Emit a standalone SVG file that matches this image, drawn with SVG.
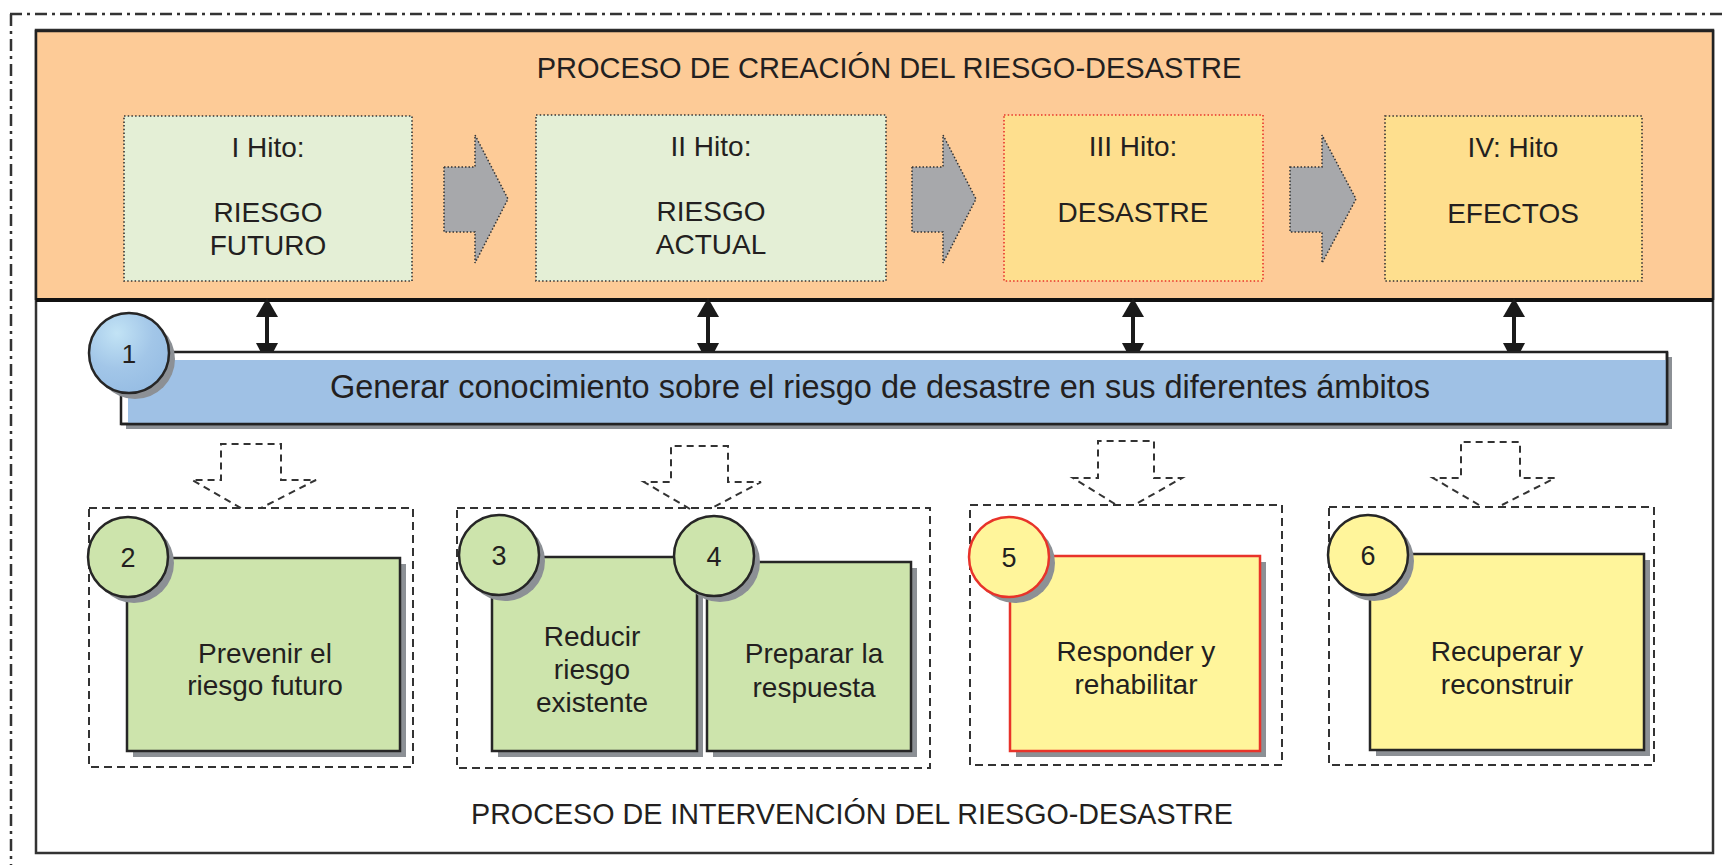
<svg xmlns="http://www.w3.org/2000/svg" width="1725" height="865" viewBox="0 0 1725 865">
<style>
  .t { font-family: "Liberation Sans", Arial, sans-serif; fill: #231F20; text-anchor: middle; }
  .hito { fill: #E4EFD6; stroke: #333; stroke-width: 1.6; stroke-dasharray: 1.5 2.2; }
  .hitoY { fill: #FEDF8E; stroke: #333; stroke-width: 1.6; stroke-dasharray: 1.5 2.2; }
  .hitoR { fill: #FEDF8E; stroke: #E8332A; stroke-width: 1.6; stroke-dasharray: 1.5 2.2; }
  .garrow { fill: #A7A8AB; stroke: #333; stroke-width: 1.5; stroke-dasharray: 1.5 2; }
  .dbl { stroke: #1A1A1A; stroke-width: 4; fill: none; }
  .head { fill: #1A1A1A; }
  .darrow { fill: none; stroke: #333; stroke-width: 2; stroke-dasharray: 7 5; }
  .group { fill: none; stroke: #333; stroke-width: 2; stroke-dasharray: 8 5; }
  .shadow { fill: #8C9095; }
  .green { fill: #CDE4AC; stroke: #262626; stroke-width: 2.5; }
  .yellow { fill: #FFF59B; stroke: #262626; stroke-width: 2.5; }
  .yellowR { fill: #FFF59B; stroke: #E8332A; stroke-width: 2.5; }
</style>
<defs>
  <radialGradient id="blueBall" cx="35%" cy="25%" r="75%">
    <stop offset="0" stop-color="#C2E3F5"/>
    <stop offset="0.6" stop-color="#A2C6E8"/>
    <stop offset="1" stop-color="#98BEE4"/>
  </radialGradient>
</defs>
<rect width="1725" height="865" fill="#FFFFFF"/>

<!-- outer dash-dot frame -->
<g id="frame">
  <path d="M10,14 H1725 M11,14 V865" fill="none" stroke="#333" stroke-width="2.5" stroke-dasharray="12 5 3 5"/>
</g>

<!-- main container -->
<g id="main">
  <rect x="36" y="30" width="1677" height="823" fill="#FFFFFF" stroke="#333" stroke-width="2.5"/>
  <rect x="37" y="31" width="1675" height="269" fill="#FDCB97"/>
  <path d="M36,31 H1713 M36,30 V300 M1713,30 V300" stroke="#222" stroke-width="2.5" fill="none"/>
  <line x1="36" y1="300" x2="1713" y2="300" stroke="#111" stroke-width="4"/>
  <text class="t" x="889" y="78" font-size="29">PROCESO DE CREACIÓN DEL RIESGO-DESASTRE</text>
  <text class="t" x="852" y="824" font-size="28.7">PROCESO DE INTERVENCIÓN DEL RIESGO-DESASTRE</text>
</g>

<g id="hito1">
  <rect class="hito" x="124" y="116" width="288" height="165"/>
  <text class="t" x="268" y="157" font-size="28">I Hito:</text>
  <text class="t" x="268" y="222" font-size="28">RIESGO</text>
  <text class="t" x="268" y="255" font-size="28">FUTURO</text>
</g>
<g id="hito2">
  <rect class="hito" x="536" y="115" width="350" height="166"/>
  <text class="t" x="711" y="156" font-size="28">II Hito:</text>
  <text class="t" x="711" y="221" font-size="28">RIESGO</text>
  <text class="t" x="711" y="254" font-size="28">ACTUAL</text>
</g>
<g id="hito3">
  <rect class="hitoR" x="1004" y="115" width="259" height="166"/>
  <text class="t" x="1133" y="156" font-size="28">III Hito:</text>
  <text class="t" x="1133" y="222" font-size="28">DESASTRE</text>
</g>
<g id="hito4">
  <rect class="hitoY" x="1385" y="116" width="257" height="165"/>
  <text class="t" x="1513" y="157" font-size="28">IV: Hito</text>
  <text class="t" x="1513" y="223" font-size="28">EFECTOS</text>
</g>

<g id="connectors">
  <!-- gray process arrows -->
  <polygon class="garrow" points="444,167 475,167 475,135 508,199 475,263 475,232 444,232"/>
  <polygon class="garrow" points="912,167 943,167 943,135 976,199 943,263 943,232 912,232"/>
  <polygon class="garrow" points="1290,167 1322,167 1322,135 1356,199 1322,263 1322,232 1290,232"/>
  <!-- double-headed arrows -->
  <g>
    <line class="dbl" x1="267" y1="312" x2="267" y2="348"/>
    <polygon class="head" points="267,298 278,317 256,317"/>
    <polygon class="head" points="267,364 278,343 256,343"/>
    <line class="dbl" x1="708" y1="312" x2="708" y2="348"/>
    <polygon class="head" points="708,298 719,317 697,317"/>
    <polygon class="head" points="708,364 719,343 697,343"/>
    <line class="dbl" x1="1133" y1="312" x2="1133" y2="348"/>
    <polygon class="head" points="1133,298 1144,317 1122,317"/>
    <polygon class="head" points="1133,364 1144,343 1122,343"/>
    <line class="dbl" x1="1514" y1="312" x2="1514" y2="348"/>
    <polygon class="head" points="1514,298 1525,317 1503,317"/>
    <polygon class="head" points="1514,364 1525,343 1503,343"/>
  </g>
  <!-- dashed hollow down arrows (tips open) -->
  <path class="darrow" d="M241,508 L192,480 H221 V444 H281 V480 H316 L261,508"/>
  <path class="darrow" d="M690,509 L644,482 H671 V446 H728 V482 H761 L710,509"/>
  <path class="darrow" d="M1115,504 L1073,478 H1098 V441 H1154 V478 H1182 L1136,504"/>
  <path class="darrow" d="M1479,505 L1433,478 H1461 V442 H1520 V478 H1555 L1502,505"/>
</g>

<g id="node1">
  <rect class="shadow" x="126" y="357" width="1546" height="72"/>
  <rect x="121" y="352" width="1546" height="72" fill="#FFFFFF" stroke="#222" stroke-width="2.5"/>
  <rect x="128" y="360" width="1538" height="63" fill="#9FC1E5"/>
  <line x1="121" y1="424" x2="1667" y2="424" stroke="#222" stroke-width="2.5"/>
  <line x1="1667" y1="352" x2="1667" y2="424" stroke="#222" stroke-width="2.5"/>
  <text class="t" x="880" y="398" font-size="32.5">Generar conocimiento sobre el riesgo de desastre en sus diferentes ámbitos</text>
  <circle class="shadow" cx="135" cy="359" r="40"/>
  <circle cx="129" cy="353" r="40" fill="url(#blueBall)" stroke="#262626" stroke-width="2.5"/>
  <text class="t" x="129" y="363" font-size="26">1</text>
</g>

<g id="group1">
  <rect class="group" x="89" y="508" width="324" height="259"/>
</g>
<g id="group2">
  <rect class="group" x="457" y="508" width="473" height="260"/>
</g>
<g id="group3">
  <rect class="group" x="970" y="505" width="312" height="260"/>
</g>
<g id="group4">
  <rect class="group" x="1329" y="507" width="325" height="258"/>
</g>

<g id="node2">
  <rect class="shadow" x="133" y="564" width="273" height="193"/>
  <rect class="green" x="127" y="558" width="273" height="193"/>
  <text class="t" x="265" y="663" font-size="28">Prevenir el</text>
  <text class="t" x="265" y="695" font-size="28">riesgo futuro</text>
  <circle class="shadow" cx="134" cy="563" r="40"/>
  <circle class="green" cx="128" cy="557" r="40"/>
  <text class="t" x="128" y="567" font-size="27">2</text>
</g>

<g id="node3">
  <rect class="shadow" x="498" y="563" width="205" height="194"/>
  <rect class="green" x="492" y="557" width="205" height="194"/>
  <text class="t" x="592" y="646" font-size="28">Reducir</text>
  <text class="t" x="592" y="679" font-size="28">riesgo</text>
  <text class="t" x="592" y="712" font-size="28">existente</text>
  <circle class="shadow" cx="505" cy="561" r="40"/>
  <circle class="green" cx="499" cy="555" r="40"/>
  <text class="t" x="499" y="565" font-size="27">3</text>
</g>

<g id="node4">
  <rect class="shadow" x="713" y="568" width="204" height="189"/>
  <rect class="green" x="707" y="562" width="204" height="189"/>
  <text class="t" x="814" y="663" font-size="28">Preparar la</text>
  <text class="t" x="814" y="697" font-size="28">respuesta</text>
  <circle class="shadow" cx="720" cy="562" r="40"/>
  <circle class="green" cx="714" cy="556" r="40"/>
  <text class="t" x="714" y="566" font-size="27">4</text>
</g>

<g id="node5">
  <rect class="shadow" x="1016" y="562" width="250" height="195"/>
  <rect class="yellowR" x="1010" y="556" width="250" height="195"/>
  <text class="t" x="1136" y="661" font-size="28">Responder y</text>
  <text class="t" x="1136" y="694" font-size="28">rehabilitar</text>
  <circle class="shadow" cx="1015" cy="563" r="40"/>
  <circle class="yellowR" cx="1009" cy="557" r="40"/>
  <text class="t" x="1009" y="567" font-size="27">5</text>
</g>

<g id="node6">
  <rect class="shadow" x="1376" y="560" width="274" height="196"/>
  <rect class="yellow" x="1370" y="554" width="274" height="196"/>
  <text class="t" x="1507" y="661" font-size="28">Recuperar y</text>
  <text class="t" x="1507" y="694" font-size="28">reconstruir</text>
  <circle class="shadow" cx="1374" cy="561" r="40"/>
  <circle class="yellow" cx="1368" cy="555" r="40"/>
  <text class="t" x="1368" y="565" font-size="27">6</text>
</g>
</svg>
